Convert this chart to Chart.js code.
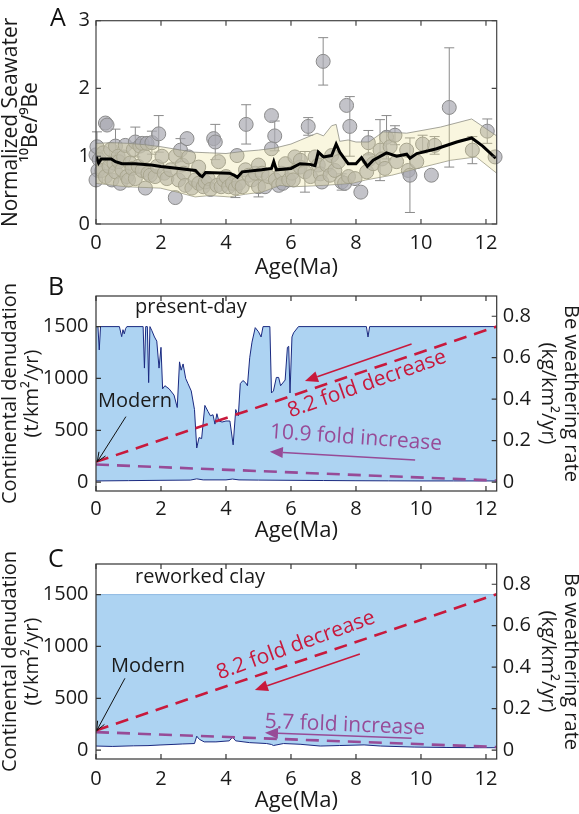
<!DOCTYPE html>
<html>
<head>
<meta charset="utf-8">
<script src="https://cdn.jsdelivr.net/npm/chart.js@4.4.1/dist/chart.umd.min.js"></script>
<style>
html,body{margin:0;padding:0;background:#fff;width:579px;height:814px;overflow:hidden;position:relative;}
canvas{position:absolute;left:0;}
.lbl{position:absolute;font-family:'Open Sans','Noto Sans',sans-serif;font-size:25px;line-height:1;color:#111;}
</style>
</head>
<body>
<canvas id="cA" width="579" height="290" style="top:0px;width:579px;height:290px"></canvas>
<canvas id="cB" width="579" height="285" style="top:270px;width:579px;height:285px"></canvas>
<canvas id="cC" width="579" height="274" style="top:540px;width:579px;height:274px"></canvas>
<div class="lbl" style="left:50px;top:4px">A</div>
<div class="lbl" style="left:48px;top:273px">B</div>
<div class="lbl" style="left:48px;top:545px">C</div>
<script>
// ---------- tick labels ----------
const ageTicks = [0, 2, 4, 6, 8, 10, 12];
const ratioTicks = [0, 1, 2, 3];
const denudationTicks = [0, 500, 1000, 1500];
const beRateTicks = [0, 0.2, 0.4, 0.6, 0.8];

// ---------- panel A : seawater 10Be/9Be samples ----------
const sampleAge = [0.00,0.03,0.06,0.00,0.10,0.18,0.22,0.29,0.34,0.29,0.40,0.45,0.49,0.55,0.60,0.60,0.68,0.70,0.75,0.80,0.85,0.90,0.95,1.00,
  1.05,1.11,1.15,1.21,1.21,1.30,1.35,1.42,1.42,1.50,1.52,1.57,1.60,1.67,1.72,1.82,1.88,1.93,2.03,
  2.10,2.18,2.30,2.44,2.45,2.54,2.60,2.65,2.70,2.75,2.80,2.85,2.95,
  3.05,3.16,3.16,3.30,3.36,3.45,3.52,3.62,3.67,3.72,3.77,3.85,3.93,4.00,
  4.08,4.20,4.29,4.34,4.39,4.50,4.60,4.62,4.70,4.80,4.90,5.00,5.00,
  5.11,5.20,5.31,5.40,5.50,5.40,5.52,5.62,5.70,5.75,5.83,5.93,6.03,
  6.07,6.12,6.28,6.29,6.43,6.53,6.60,6.74,6.84,6.90,6.95,6.99,
  7.10,7.20,7.25,7.35,7.46,7.56,7.65,7.71,7.77,7.81,7.97,
  8.15,8.33,8.38,8.40,8.53,8.74,8.80,8.89,8.94,9.05,
  9.20,9.25,9.56,9.61,9.66,9.87,10.05,
  10.32,10.42,10.87,11.58,12.04,12.28];
const sampleRatio = [1.02,1.14,0.79,0.65,0.95,0.79,1.05,1.49,1.46,0.70,0.85,1.10,0.65,0.90,1.15,0.77,1.00,0.92,0.60,0.80,0.99,1.16,0.70,0.65,
  0.90,0.82,1.10,1.21,0.67,0.85,1.15,1.19,0.79,1.00,0.53,1.19,0.75,0.72,1.20,0.70,0.85,1.33,1.00,
  0.75,0.67,0.80,0.39,1.00,0.65,1.09,0.87,0.75,0.57,1.26,0.99,0.53,
  0.65,0.84,0.60,0.55,0.62,0.67,0.51,1.26,1.21,0.57,0.92,0.55,0.65,0.70,
  0.55,0.60,0.53,1.01,0.60,0.55,0.80,1.47,0.72,0.65,0.75,0.87,0.55,
  0.75,0.55,0.70,1.60,1.30,1.11,0.65,0.57,0.75,0.60,0.89,0.65,0.75,
  0.65,0.99,0.84,0.94,0.77,1.44,0.70,0.99,0.87,0.74,0.62,2.40,
  0.87,0.72,1.01,0.79,0.92,0.62,0.60,1.75,0.70,1.44,0.67,
  0.47,0.77,1.20,0.95,0.89,1.09,0.96,0.82,1.28,1.14,
  1.31,0.92,1.09,0.79,0.72,0.92,1.18,
  0.72,1.16,1.72,1.09,1.37,0.99];
const sampleErr = [0,0.22,0,0,0,0,0,0,0,0,0,0,0,0,0.25,0,0,0,0,0,0,0,0,0,
  0,0,0,0.22,0,0,0,0,0,0,0,0,0,0,0.17,0,0,0.27,0,
  0,0,0,0,0,0,0.17,0,0,0,0,0,0,
  0,0,0,0,0,0,0,0,0.26,0,0,0,0,0,
  0,0,0.14,0,0,0,0,0.29,0,0,0,0,0.15,
  0,0,0,0,0.22,0,0,0,0,0,0,0,0,
  0,0,0,0,0.30,0.13,0,0,0,0,0,0.35,
  0,0,0,0,0,0.12,0,0,0,0.44,0,
  0,0,0.18,0,0,0.45,0,0,0.32,0,
  0.14,0,0,0,0.55,0,0.13,
  0,0.13,0.88,0.20,0.18,0];

const meanAge = [0,0.08,0.16,0.47,0.6,0.8,1.2,1.7,2.0,2.55,3.06,3.2,3.27,3.37,4.1,4.25,4.35,4.5,5.1,5.4,5.47,5.55,6.0,6.2,6.28,6.58,6.74,6.84,7.0,7.25,7.39,7.5,7.76,8.0,8.17,8.35,8.53,8.94,9.25,9.56,9.66,9.87,10.48,11.1,11.56,11.9,12.3];
const meanRatio = [1.0,0.9,0.96,0.96,0.92,0.89,0.89,0.87,0.85,0.82,0.79,0.72,0.7,0.76,0.75,0.72,0.69,0.77,0.8,0.82,0.92,0.8,0.82,0.87,0.89,0.88,0.86,1.06,0.99,1.01,1.18,1.06,0.89,0.89,0.98,0.85,0.94,1.05,1.0,1.03,0.97,1.04,1.11,1.21,1.27,1.15,0.97];

const bandUpperAge = [0,0.5,1,1.5,2,2.5,3,3.5,4,4.5,5,5.5,6,6.3,6.8,7.0,7.25,7.39,7.5,7.76,8.0,8.4,8.84,9.56,10.6,11.56,12.33];
const bandUpper = [1.19,1.2,1.19,1.17,1.14,1.1,1.06,1.05,1.04,1.07,1.09,1.12,1.18,1.24,1.34,1.3,1.45,1.47,1.22,1.24,1.21,1.21,1.36,1.34,1.43,1.55,1.3];
const bandLowerAge = [0,0.93,1.98,2.5,3.05,3.5,4.1,4.6,5.1,5.66,6.1,7.0,7.88,8.3,9.1,9.9,10.9,11.7,12.33];
const bandLower = [0.6,0.55,0.53,0.47,0.4,0.42,0.4,0.44,0.47,0.57,0.55,0.57,0.6,0.65,0.72,0.82,0.94,0.99,0.75];

// ---------- panel B : present-day denudation ----------
const presentAge = [0,0.06,0.1,0.14,0.72,0.79,0.83,0.87,0.91,0.95,1.45,1.49,1.53,1.58,1.62,1.66,1.72,1.8,1.87,1.94,2.0,2.05,2.12,2.25,2.4,2.5,2.57,2.62,2.68,2.76,2.83,2.93,3.03,3.1,3.17,3.25,3.35,3.45,3.52,3.6,3.66,3.72,3.78,3.88,4.0,4.12,4.22,4.3,4.38,4.44,4.52,4.6,4.66,4.73,4.8,4.9,5.0,5.08,5.14,5.35,5.4,5.46,5.55,5.62,5.68,5.82,5.89,5.93,5.97,6.03,6.08,6.23,8.32,8.37,8.42,12.33];
const presentDen = [1500,1500,1275,1500,1500,1403,1470,1430,1480,1500,1500,1100,1500,1500,960,1500,1460,1400,1360,1100,1300,900,930,900,840,720,1160,1080,1140,1000,950,880,700,330,430,420,740,680,640,650,560,660,590,580,590,590,360,700,640,950,980,960,930,1200,1350,1490,1450,1400,1500,1500,860,880,1010,1010,930,985,1300,1310,860,1400,1440,1500,1500,1400,1500,1500];
const presentBaseAge = [0,1,2,2.9,3.1,3.3,4.0,4.2,4.4,5,6,7,8,9,10,11,12.33];
const presentBase = [12,15,18,20,32,22,22,30,22,20,18,16,14,13,12,12,12];

// ---------- panel C : reworked clay ----------
const clayTopAge = [0, 12.33];
const clayTop = [1500, 1500];
const clayBaseAge = [0,0.5,1.15,1.6,1.97,2.4,2.67,3.03,3.1,3.18,3.33,3.69,4.1,4.2,4.3,4.72,5.25,5.4,5.46,5.77,6.28,6.9,7.5,8.25,8.76,9.79,10.8,11.8,12.33];
const clayBase = [40,36,42,44,50,56,60,64,135,105,80,80,90,125,90,73,64,55,45,64,57,40,45,51,40,30,26,24,24];

// ---------- Be weathering trends (right axis) ----------
const trendAge = [0, 12.33];
const beDecreaseB = [0.098, 0.75];
const beIncreaseB = [0.085, 0.0078];
const beDecreaseC = [0.095, 0.752];
const beIncreaseC = [0.087, 0.0153];

// ---------- helpers ----------
const FONT = "'Open Sans','Noto Sans','DejaVu Sans',sans-serif";
Chart.defaults.font.family = FONT;
Chart.defaults.color = '#1a1a1a';
const RED = '#c8193c', PURPLE = '#974b97', NAVY = '#1b2a80', BLUE = '#add3f2';

const pts = (xs, ys) => xs.map((x, i) => ({x: x, y: ys[i]}));
const fixed = size => s => { if (s.isHorizontal()) s.height = size; else s.width = size; };
const setTicks = vals => s => { s.ticks = vals.map(v => ({value: v})); };
const plain = v => String(v);

function makeFrame(color, len) {
  return {
    id: 'frame',
    afterDraw(chart) {
      const {ctx, chartArea: a, scales} = chart;
      ctx.save();
      ctx.strokeStyle = color; ctx.lineWidth = 1.2;
      ctx.strokeRect(a.left, a.top, a.right - a.left, a.bottom - a.top);
      ctx.beginPath();
      scales.x.ticks.forEach(t => {
        const p = scales.x.getPixelForValue(t.value);
        ctx.moveTo(p, a.bottom); ctx.lineTo(p, a.bottom - len);
        ctx.moveTo(p, a.top); ctx.lineTo(p, a.top + len);
      });
      scales.y.ticks.forEach(t => {
        const p = scales.y.getPixelForValue(t.value);
        ctx.moveTo(a.left, p); ctx.lineTo(a.left + len, p);
        if (!scales.y2) { ctx.moveTo(a.right, p); ctx.lineTo(a.right - len, p); }
      });
      if (scales.y2) scales.y2.ticks.forEach(t => {
        const p = scales.y2.getPixelForValue(t.value);
        ctx.moveTo(a.right, p); ctx.lineTo(a.right - len, p);
      });
      ctx.stroke();
      ctx.restore();
    }
  };
}

function makeErrorBars(ages, vals, errs, color, cap) {
  return {
    id: 'errorBars',
    beforeDatasetsDraw(chart) {
      const {ctx, scales: {x, y}} = chart;
      ctx.save();
      ctx.strokeStyle = color; ctx.lineWidth = 1;
      ctx.beginPath();
      ages.forEach((a, i) => {
        const e = errs[i];
        if (!e) return;
        const px = x.getPixelForValue(a);
        const t = y.getPixelForValue(vals[i] + e), b = y.getPixelForValue(vals[i] - e);
        ctx.moveTo(px, t); ctx.lineTo(px, b);
        ctx.moveTo(px - cap, t); ctx.lineTo(px + cap, t);
        ctx.moveTo(px - cap, b); ctx.lineTo(px + cap, b);
      });
      ctx.stroke();
      ctx.restore();
    }
  };
}

function makeNotes(items) {
  return {
    id: 'notes',
    afterDatasetsDraw(chart) {
      const {ctx, scales: {x, y}} = chart;
      items.forEach(it => {
        ctx.save();
        if (it.text) {
          ctx.font = (it.size || 20) + 'px ' + FONT;
          ctx.fillStyle = it.color;
          ctx.textAlign = 'center'; ctx.textBaseline = 'middle';
          ctx.translate(x.getPixelForValue(it.x), y.getPixelForValue(it.y));
          ctx.rotate(-(it.angle || 0) * Math.PI / 180);
          ctx.fillText(it.text, 0, 0);
        } else {
          const x1 = x.getPixelForValue(it.from[0]), y1 = y.getPixelForValue(it.from[1]);
          const x2 = x.getPixelForValue(it.to[0]), y2 = y.getPixelForValue(it.to[1]);
          const ang = Math.atan2(y2 - y1, x2 - x1);
          ctx.strokeStyle = it.color; ctx.fillStyle = it.color; ctx.lineWidth = it.width;
          const L = it.head, W = it.headW;
          ctx.beginPath();
          if (it.open) {
            ctx.moveTo(x1, y1); ctx.lineTo(x2, y2);
            ctx.moveTo(x2 - L * Math.cos(ang - 0.4), y2 - L * Math.sin(ang - 0.4));
            ctx.lineTo(x2, y2);
            ctx.lineTo(x2 - L * Math.cos(ang + 0.4), y2 - L * Math.sin(ang + 0.4));
            ctx.stroke();
          } else {
            const bx = x2 - L * Math.cos(ang), by = y2 - L * Math.sin(ang);
            ctx.moveTo(x1, y1); ctx.lineTo(bx, by); ctx.stroke();
            ctx.beginPath();
            ctx.moveTo(x2, y2);
            ctx.lineTo(bx + W * Math.sin(ang), by - W * Math.cos(ang));
            ctx.lineTo(bx - W * Math.sin(ang), by + W * Math.cos(ang));
            ctx.closePath(); ctx.fill();
          }
        }
        ctx.restore();
      });
    }
  };
}

function xAxis(tickPad, titlePadBottom, height) {
  return {
    type: 'linear', min: 0, max: 12.33,
    grid: {display: false, drawTicks: false}, border: {display: false},
    afterBuildTicks: setTicks(ageTicks), afterFit: fixed(height),
    ticks: {font: {size: 20}, padding: tickPad, maxRotation: 0, autoSkip: false, callback: plain},
    title: {display: true, text: 'Age(Ma)', font: {size: 22, lineHeight: 1.2}, padding: {top: 0, bottom: titlePadBottom}}
  };
}
function denAxis() {
  return {
    position: 'left', min: -85, max: 1795,
    grid: {display: false, drawTicks: false}, border: {display: false},
    afterBuildTicks: setTicks(denudationTicks), afterFit: fixed(96),
    ticks: {font: {size: 20}, padding: 7.5, callback: plain},
    title: {display: true, text: ['Continental denudation', '(t/km²/yr)'], font: {size: 20, lineHeight: '22px'}, padding: {top: -1, bottom: 0}}
  };
}
function beAxis() {
  return {
    position: 'right', min: -0.0425, max: 0.8975,
    grid: {display: false, drawTicks: false}, border: {display: false},
    afterBuildTicks: setTicks(beRateTicks), afterFit: fixed(82.3),
    ticks: {font: {size: 20}, padding: 6, callback: plain},
    title: {display: true, text: ['Be weathering rate', '(kg/km²/yr)'], font: {size: 20, lineHeight: '23px'}, padding: {top: -3.5, bottom: 0}}
  };
}
const common = {
  responsive: false, animation: false, events: [],
  plugins: {legend: {display: false}, tooltip: {enabled: false}}
};

// ---------- chart A ----------
new Chart(document.getElementById('cA'), {
  type: 'line',
  data: {datasets: [
    {type: 'line', data: pts(meanAge, meanRatio), borderColor: '#000', borderWidth: 3, pointRadius: 0, fill: false},
    {type: 'line', data: pts(bandUpperAge, bandUpper), borderColor: '#8e8e84', borderWidth: 0.8, pointRadius: 0, fill: '+1', backgroundColor: 'rgba(235,225,150,0.3)'},
    {type: 'line', data: pts(bandLowerAge, bandLower), borderColor: '#8e8e84', borderWidth: 0.8, pointRadius: 0, fill: false},
    {type: 'scatter', data: pts(sampleAge, sampleRatio), pointRadius: 7, pointBackgroundColor: 'rgba(170,170,178,0.7)', pointBorderColor: '#8a8a8a', pointBorderWidth: 1, showLine: false, clip: false}
  ]},
  options: Object.assign({}, common, {
    layout: {padding: {top: 20.7, right: 82.3, left: 0, bottom: 0}},
    scales: {
      x: xAxis(7.0, 8.8, 66),
      y: {min: 0, max: 3, position: 'left',
        grid: {display: false, drawTicks: false}, border: {display: false},
        afterBuildTicks: setTicks(ratioTicks), afterFit: fixed(96),
        ticks: {font: {size: 20}, padding: 6, callback: plain},
        title: {display: true, text: ['Normalized Seawater', '¹⁰Be/⁹Be'], font: {size: 21, lineHeight: '20px'}, padding: {top: 1, bottom: 0}}}
    }
  }),
  plugins: [makeErrorBars(sampleAge, sampleRatio, sampleErr, '#8a8a8a', 5), makeFrame('#444', 5)]
});

// ---------- chart B ----------
new Chart(document.getElementById('cB'), {
  type: 'line',
  data: {datasets: [
    {type: 'line', data: pts(trendAge, beDecreaseB), yAxisID: 'y2', borderColor: RED, borderWidth: 2.6, borderDash: [13, 8], pointRadius: 0, fill: false},
    {type: 'line', data: pts(trendAge, beIncreaseB), yAxisID: 'y2', borderColor: PURPLE, borderWidth: 2.6, borderDash: [13, 8], pointRadius: 0, fill: false},
    {type: 'line', data: pts(presentAge, presentDen), yAxisID: 'y', borderColor: NAVY, borderWidth: 1, pointRadius: 0, fill: '+1', backgroundColor: BLUE},
    {type: 'line', data: pts(presentBaseAge, presentBase), yAxisID: 'y', borderColor: NAVY, borderWidth: 1, pointRadius: 0, fill: false}
  ]},
  options: Object.assign({}, common, {
    layout: {padding: {top: 26, right: 0, left: 0, bottom: 0}},
    plugins: {legend: {display: false}, tooltip: {enabled: false}, filler: {drawTime: 'beforeDatasetsDraw'}},
    scales: {x: xAxis(6.0, 10.8, 64), y: denAxis(), y2: beAxis()}
  }),
  plugins: [makeFrame('#333', 5), makeNotes([
    {text: 'present-day', x: 2.92, y: 1689, color: '#1a1a1a'},
    {text: 'Modern', x: 1.2, y: 776, color: '#1a1a1a'},
    {from: [0.92, 632], to: [0.04, 198], color: '#111', width: 1, head: 10, open: true},
    {text: '8.2 fold decrease', x: 8.34, y: 946, color: RED, angle: 19.5, size: 21},
    {from: [9.71, 1333], to: [6.43, 976], color: RED, width: 1.5, head: 13, headW: 5.5},
    {text: '10.9 fold increase', x: 8.0, y: 426, color: PURPLE, angle: -4, size: 21},
    {from: [9.82, 214], to: [5.35, 294], color: PURPLE, width: 1.5, head: 13, headW: 5.5}
  ])]
});

// ---------- chart C ----------
new Chart(document.getElementById('cC'), {
  type: 'line',
  data: {datasets: [
    {type: 'line', data: pts(trendAge, beDecreaseC), yAxisID: 'y2', borderColor: RED, borderWidth: 2.6, borderDash: [13, 8], pointRadius: 0, fill: false},
    {type: 'line', data: pts(trendAge, beIncreaseC), yAxisID: 'y2', borderColor: PURPLE, borderWidth: 2.6, borderDash: [13, 8], pointRadius: 0, fill: false},
    {type: 'line', data: pts(clayTopAge, clayTop), yAxisID: 'y', borderColor: '#8fb9e3', borderWidth: 1, pointRadius: 0, fill: '+1', backgroundColor: BLUE},
    {type: 'line', data: pts(clayBaseAge, clayBase), yAxisID: 'y', borderColor: NAVY, borderWidth: 1, pointRadius: 0, fill: false}
  ]},
  options: Object.assign({}, common, {
    layout: {padding: {top: 24, right: 0, left: 0, bottom: 0}},
    plugins: {legend: {display: false}, tooltip: {enabled: false}, filler: {drawTime: 'beforeDatasetsDraw'}},
    scales: {x: xAxis(8.0, 0, 55), y: denAxis(), y2: beAxis()}
  }),
  plugins: [makeFrame('#333', 5), makeNotes([
    {text: 'reworked clay', x: 3.2, y: 1667, color: '#1a1a1a'},
    {text: 'Modern', x: 1.6, y: 812, color: '#1a1a1a'},
    {from: [0.89, 693], to: [0.02, 188], color: '#111', width: 1, head: 10, open: true},
    {text: '8.2 fold decrease', x: 6.15, y: 1010, color: RED, angle: 20, size: 21},
    {from: [8.12, 928], to: [4.89, 580], color: RED, width: 1.5, head: 13, headW: 5.5},
    {text: '5.7 fold increase', x: 7.66, y: 242, color: PURPLE, angle: -2.3, size: 21},
    {from: [9.71, 115], to: [5.2, 169], color: PURPLE, width: 1.5, head: 13, headW: 5.5}
  ])]
});
</script>
</body>
</html>
